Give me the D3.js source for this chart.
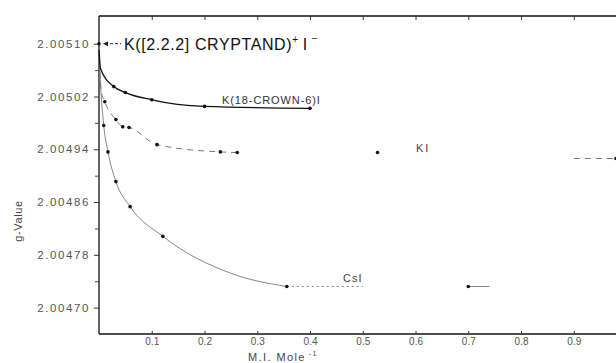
<!DOCTYPE html>
<html>
<head>
<meta charset="utf-8">
<script src="https://cdn.jsdelivr.net/npm/d3@7"></script>
<style>
  body { margin: 0; background: #fff; }
  svg text { font-family: "Liberation Sans", Arial, sans-serif; }
</style>
</head>
<body>
<div id="chart-area"><svg></svg></div>
<script>
const chartSize = { width: 616, height: 363 };
const margin = { left: 99, right: 0, top: 16, bottom: 29 };
const width = chartSize.width - margin.left - margin.right;
const height = chartSize.height - margin.top - margin.bottom;

// values (x in M.I. per mole, y as g-value)
const xTicks = [0.1, 0.2, 0.3, 0.4, 0.5, 0.6, 0.7, 0.8, 0.9];
const yLabelTicks = [2.0047, 2.00478, 2.00486, 2.00494, 2.00502, 2.0051];
const yMinorTicks = [2.00474, 2.00482, 2.0049, 2.00498, 2.00506];

const crownX = [0, 0.003, 0.028, 0.05, 0.1, 0.2, 0.4];
const crownY = [2.005091, 2.005062, 2.005035, 2.005026, 2.005015, 2.005005, 2.005002];

const kiX = [0, 0.004, 0.011, 0.032, 0.045, 0.057, 0.11, 0.23, 0.262, 0.528, 0.9, 0.98];
const kiY = [2.005091, 2.00503, 2.005012, 2.004985, 2.004974, 2.004973, 2.004947,
  2.004936, 2.004935, 2.004935, 2.004926, 2.004926];
const kiMarks = [2, 3, 4, 5, 6, 7, 8, 9, 11];
const kiRuns = [[0, 8], [10, 11]];

const csiX = [0, 0.002, 0.009, 0.017, 0.032, 0.059, 0.121, 0.25, 0.356, 0.5, 0.7, 0.74];
const csiY = [2.005091, 2.005053, 2.004976, 2.004936, 2.004891, 2.004853, 2.004808,
  2.004752, 2.004732, 2.004732, 2.004732, 2.004732];
const csiMarks = [2, 3, 4, 5, 6, 8, 10];
const csiRuns = [[0, 8], [8, 9], [10, 11]];

const cryptandX = [0];
const cryptandY = [2.0051];

const toPoints = (xs, ys) => xs.map((x, i) => ({ x, y: ys[i] }));

const main = () => {
  const svg = d3
    .select("#chart-area svg")
    .attr("width", chartSize.width)
    .attr("height", chartSize.height);

  const x = d3.scaleLinear().domain([0, 0.98]).range([0, width]);
  const y = d3.scaleLinear().domain([2.00466, 2.005142]).range([height, 0]);

  const g = svg
    .append("g")
    .attr("transform", `translate(${margin.left},${margin.top})`);

  // frame: left, bottom and top lines
  const frame = g.append("g").attr("stroke", "#111").attr("stroke-width", 1.3);
  frame.append("line").attr("x1", 0).attr("x2", 0).attr("y1", 0).attr("y2", height);
  frame.append("line").attr("x1", 0).attr("x2", width).attr("y1", height).attr("y2", height);
  frame.append("line").attr("x1", 0).attr("x2", width).attr("y1", 0).attr("y2", 0);

  // y axis
  const yAxis = d3
    .axisLeft(y)
    .tickValues(yLabelTicks)
    .tickSize(5)
    .tickPadding(4)
    .tickFormat(d3.format(".5f"));
  const ya = g.append("g").attr("class", "y-axis").call(yAxis);
  ya.select(".domain").remove();
  ya.selectAll("line").attr("stroke", "#333");
  ya.selectAll("text")
    .attr("font-size", 11.5)
    .attr("letter-spacing", 1.6)
    .attr("fill", "#555");

  g.append("g")
    .call(d3.axisLeft(y).tickValues(yMinorTicks).tickSize(4).tickFormat(""))
    .call(a => a.select(".domain").remove())
    .selectAll("line").attr("stroke", "#444");

  // x axis
  const xAxis = d3
    .axisBottom(x)
    .tickValues(xTicks)
    .tickSize(-3)
    .tickPadding(4)
    .tickFormat(d3.format(".1f"));
  const xa = g.append("g")
    .attr("class", "x-axis")
    .attr("transform", `translate(0,${height})`)
    .call(xAxis);
  xa.select(".domain").remove();
  xa.selectAll("line").attr("stroke", "#333");
  xa.selectAll("text").attr("font-size", 10).attr("fill", "#555");

  g.append("g")
    .call(d3.axisTop(x).tickValues(xTicks).tickSize(-4).tickFormat(""))
    .call(a => a.select(".domain").remove())
    .selectAll("line").attr("stroke", "#333");

  // axis titles
  g.append("text")
    .attr("transform", "rotate(-90)")
    .attr("x", -(221 - margin.top))
    .attr("y", 18 - margin.left + 4)
    .attr("text-anchor", "middle")
    .attr("font-size", 11)
    .attr("letter-spacing", 0.6)
    .attr("fill", "#444")
    .text("g-Value");

  const xt = g.append("text")
    .attr("x", 248 - margin.left)
    .attr("y", 361 - margin.top)
    .attr("font-size", 11)
    .attr("letter-spacing", 1.4)
    .attr("fill", "#444");
  xt.append("tspan").text("M.I. Mole");
  xt.append("tspan").attr("dy", -5).attr("font-size", 7).attr("dx", 3).text("-1");

  // series
  const line = d3.line()
    .x(d => x(d.x))
    .y(d => y(d.y))
    .curve(d3.curveMonotoneX);

  const crown = toPoints(crownX, crownY);
  const ki = toPoints(kiX, kiY);
  const csi = toPoints(csiX, csiY);

  csiRuns.forEach(([a, b], i) => {
    g.append("path")
      .datum(csi.slice(a, b + 1))
      .attr("fill", "none")
      .attr("stroke", "#777")
      .attr("stroke-width", 0.9)
      .attr("stroke-dasharray", i === 1 ? "2,3" : null)
      .attr("d", line);
  });

  kiRuns.forEach(([a, b]) => {
    g.append("path")
      .datum(ki.slice(a, b + 1))
      .attr("fill", "none")
      .attr("stroke", "#777")
      .attr("stroke-width", 1)
      .attr("stroke-dasharray", "6,5")
      .attr("d", line);
  });

  g.append("path")
    .datum(crown)
    .attr("fill", "none")
    .attr("stroke", "#111")
    .attr("stroke-width", 1.3)
    .attr("d", line);

  const dots = (pts, cls) =>
    g.append("g")
      .attr("class", cls)
      .selectAll("circle")
      .data(pts)
      .join("circle")
      .attr("cx", d => x(d.x))
      .attr("cy", d => y(d.y))
      .attr("r", 1.8)
      .attr("fill", "#111");

  dots(crown.slice(2), "crown-marks");
  dots(kiMarks.map(i => ki[i]), "ki-marks");
  dots(csiMarks.map(i => csi[i]), "csi-marks");

  // cryptand point with arrow
  const cryp = toPoints(cryptandX, cryptandY);
  dots(cryp, "cryptand-mark");
  const cy = y(cryptandY[0]);
  g.append("line")
    .attr("x1", x(0) + 6).attr("x2", x(0) + 22)
    .attr("y1", cy).attr("y2", cy)
    .attr("stroke", "#222").attr("stroke-width", 1)
    .attr("stroke-dasharray", "3,2");
  g.append("path")
    .attr("d", `M${x(0) + 4},${cy}l5,-2.5v5z`)
    .attr("fill", "#222");

  // series labels
  const cl = g.append("text")
    .attr("x", 124 - margin.left)
    .attr("y", cy + 6)
    .attr("font-size", 16)
    .attr("letter-spacing", 0.6)
    .attr("fill", "#111");
  cl.append("tspan").text("K([2.2.2] CRYPTAND)");
  cl.append("tspan").attr("dy", -7).attr("font-size", 10).text("+");
  cl.append("tspan").attr("dy", 7).attr("dx", 4).text("I");
  cl.append("tspan").attr("dy", -8).attr("dx", 4).attr("font-size", 10).text("\u2212");

  g.append("text")
    .attr("x", 222 - margin.left)
    .attr("y", 104 - margin.top)
    .attr("font-size", 11)
    .attr("letter-spacing", 0.9)
    .attr("fill", "#333")
    .text("K(18-CROWN-6)I");

  g.append("text")
    .attr("x", 416 - margin.left)
    .attr("y", 152 - margin.top)
    .attr("font-size", 11)
    .attr("letter-spacing", 2)
    .attr("fill", "#444")
    .text("KI");

  g.append("text")
    .attr("x", 343 - margin.left)
    .attr("y", 282 - margin.top)
    .attr("font-size", 11)
    .attr("letter-spacing", 1)
    .attr("fill", "#444")
    .text("CsI");
};

window.onload = main;
</script>
</body>
</html>
